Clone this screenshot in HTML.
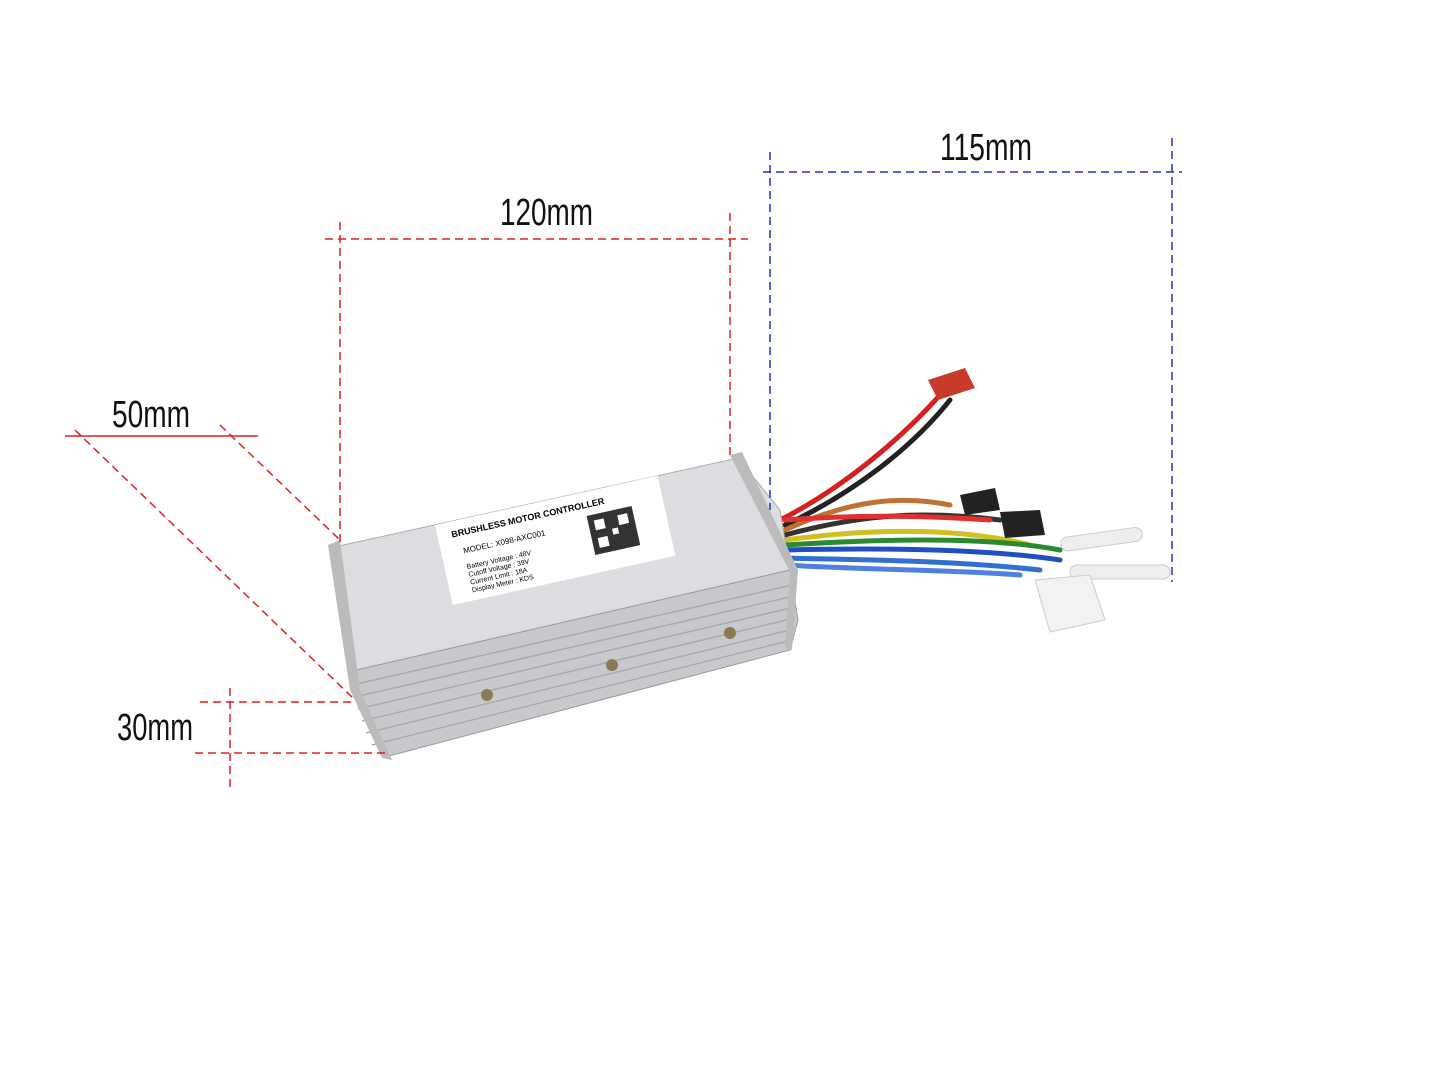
<!DOCTYPE html>
<html><head><meta charset="utf-8"><style>
html,body{margin:0;padding:0;background:#fff;}
svg{display:block;}
</style></head><body>
<svg width="1445" height="1084" viewBox="0 0 1445 1084" xmlns="http://www.w3.org/2000/svg">
<rect width="1445" height="1084" fill="#fff"/>
<g fill="none" stroke-width="5" stroke-linecap="round">
<path d="M780 520 C840 490 900 440 940 395" stroke="#d62020"/>
<path d="M785 525 C850 495 910 450 950 400" stroke="#222"/>
<path d="M785 530 C850 500 900 495 950 505" stroke="#c07030"/>
<path d="M785 535 C860 515 920 510 1000 520" stroke="#333"/>
<path d="M785 540 C860 530 950 525 1030 545" stroke="#d0c020"/>
<path d="M785 545 C870 540 980 535 1060 550" stroke="#2a8a30"/>
<path d="M785 550 C870 548 980 548 1060 560" stroke="#2050c0"/>
<path d="M785 558 C860 560 950 560 1040 570" stroke="#3070d0"/>
<path d="M785 520 C850 515 920 515 990 520" stroke="#e03030"/>
<path d="M785 565 C870 570 960 570 1020 575" stroke="#5080e0"/>
</g>
<polygon points="928,380 965,368 975,388 938,400" fill="#c83a2a"/>
<polygon points="960,495 995,488 1000,510 965,515" fill="#222"/>
<polygon points="1000,512 1040,510 1045,535 1005,538" fill="#222"/>
<rect x="1060" y="538" width="82" height="14" rx="7" fill="#eee" stroke="#ccc" transform="rotate(-8 1060 538)"/>
<rect x="1070" y="565" width="100" height="14" rx="7" fill="#eee" stroke="#ccc"/>
<polygon points="1035,580 1090,575 1105,620 1050,632" fill="#f2f2f2" stroke="#ccc"/>
<polygon points="330,548 738,458 780,510 790,570 348,672" fill="#dcdde0" stroke="#aaa"/>
<polygon points="348,672 790,570 798,620 790,650 385,757 360,700" fill="#c8c9cc" stroke="#999"/>
<g stroke="#a8a9ac" stroke-width="1.5">
<line x1="352" y1="685" x2="792" y2="585"/><line x1="355" y1="697" x2="794" y2="596"/>
<line x1="358" y1="709" x2="795" y2="607"/><line x1="362" y1="721" x2="795" y2="618"/>
<line x1="366" y1="733" x2="794" y2="629"/><line x1="372" y1="745" x2="792" y2="640"/>
</g>
<polygon points="730,455 742,452 798,570 792,650 785,648 790,572" fill="#bbb"/>
<polygon points="328,545 340,540 360,690 392,760 382,758 350,690" fill="#bbb"/>
<circle cx="487" cy="695" r="6" fill="#8a7a55"/><circle cx="612" cy="665" r="6" fill="#8a7a55"/><circle cx="730" cy="633" r="6" fill="#8a7a55"/>
<g transform="translate(435,525) rotate(-12.5)">
<rect x="0" y="0" width="228" height="82" fill="#fff"/>
<text font-family="Liberation Sans, sans-serif" font-size="9" font-weight="bold" x="14" y="16">BRUSHLESS MOTOR CONTROLLER</text>
<text font-family="Liberation Sans, sans-serif" font-size="8" x="22" y="34">MODEL: X098-AXC001</text>
<text font-family="Liberation Sans, sans-serif" font-size="7" x="22" y="50">Battery Voltage   : 48V</text>
<text font-family="Liberation Sans, sans-serif" font-size="7" x="22" y="58">Cutoff  Voltage   : 39V</text>
<text font-family="Liberation Sans, sans-serif" font-size="7" x="22" y="66">Current Limit     : 18A</text>
<text font-family="Liberation Sans, sans-serif" font-size="7" x="22" y="74">Display Meter     : KDS</text>
<rect x="150" y="24" width="46" height="40" fill="#333"/>
<rect x="156" y="30" width="10" height="10" fill="#fff"/><rect x="180" y="30" width="10" height="10" fill="#fff"/><rect x="156" y="48" width="10" height="10" fill="#fff"/><rect x="172" y="42" width="6" height="6" fill="#fff"/>
</g>
<g stroke="#e02020" stroke-width="1.5" stroke-dasharray="8,5" fill="none">
<line x1="325" y1="239" x2="748" y2="239"/>
<line x1="340" y1="222" x2="340" y2="545"/>
<line x1="730" y1="213" x2="730" y2="455"/>
<line x1="75" y1="430" x2="355" y2="700"/>
<line x1="220" y1="425" x2="340" y2="540"/>
<line x1="200" y1="702" x2="355" y2="702"/>
<line x1="195" y1="753" x2="385" y2="753"/>
<line x1="230" y1="688" x2="230" y2="790"/>
</g>
<line x1="65" y1="436" x2="258" y2="436" stroke="#e02020" stroke-width="1.5"/>
<g stroke="#2030d0" stroke-width="1.5" stroke-dasharray="8,5" fill="none">
<line x1="763" y1="172" x2="1182" y2="172"/>
<line x1="770" y1="152" x2="770" y2="510"/>
<line x1="1172" y1="138" x2="1172" y2="582"/>
</g>
<g font-family="Liberation Sans, sans-serif" font-size="38" fill="#111">
<text x="500" y="225" textLength="93" lengthAdjust="spacingAndGlyphs">120mm</text>
<text x="940" y="160" textLength="92" lengthAdjust="spacingAndGlyphs">115mm</text>
<text x="112" y="427" textLength="78" lengthAdjust="spacingAndGlyphs">50mm</text>
<text x="117" y="740" textLength="76" lengthAdjust="spacingAndGlyphs">30mm</text>
</g>
</svg>
</body></html>
